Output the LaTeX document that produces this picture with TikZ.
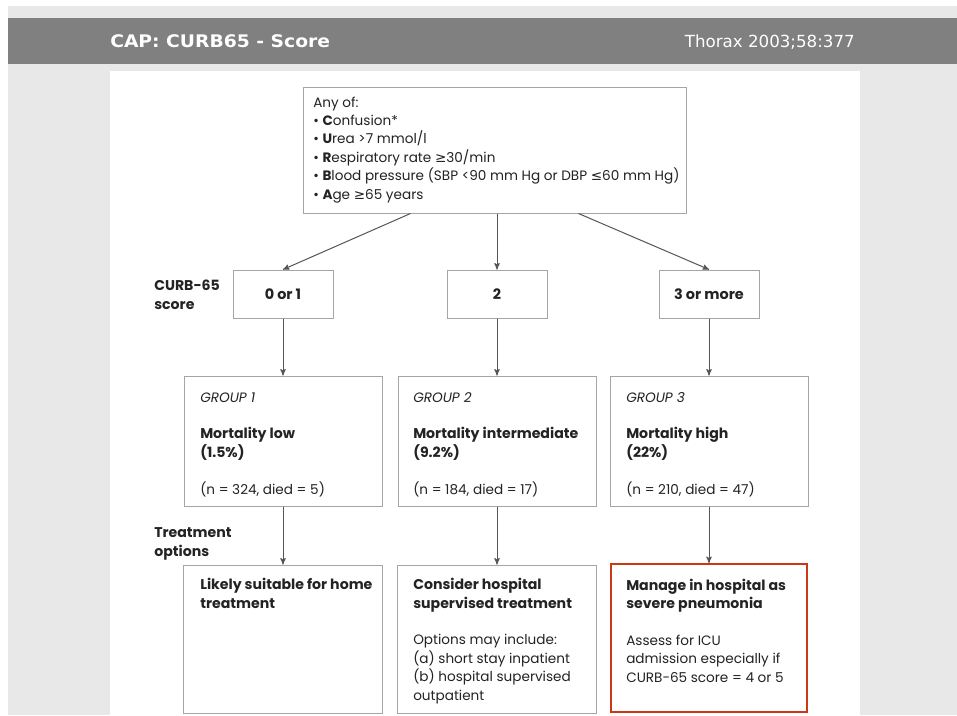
\documentclass[tikz,border=0pt]{standalone}
\usepackage{fontspec}
\setmainfont{Poppins}
\newfontfamily\headfont{DejaVu Sans}
\newfontfamily\symfont{DejaVu Sans}
\usetikzlibrary{arrows}

\definecolor{panelgray}{RGB}{232,232,232}
\definecolor{bargray}{RGB}{128,128,128}
\definecolor{boxgray}{RGB}{165,165,165}
\definecolor{arrowgray}{RGB}{85,85,85}
\definecolor{textdark}{RGB}{35,35,35}
\definecolor{alertred}{RGB}{205,55,20}

\newcommand{\gesym}{{\symfont ≥}}
\newcommand{\lesym}{{\symfont ≤}}
\newcommand{\bt}[1]{{\fontsize{10.6}{13.8}\selectfont\bfseries #1}}

\begin{document}
\begin{tikzpicture}[x=0.75pt,y=-0.75pt,>=stealth',
  every node/.style={text=textdark,font=\fontsize{10.2}{13.8}\selectfont},
  headtxt/.style={text=white,inner sep=0pt,font=\headfont\fontsize{12.5}{15}\selectfont},
  box/.style={draw=boxgray,line width=0.75pt,inner sep=0pt},
  scorebox/.style={box,minimum width=75pt,minimum height=36pt,font=\fontsize{10.8}{13.8}\selectfont\bfseries},
  groupbox/.style={box,minimum width=148.5pt,minimum height=97.5pt},
  treatbox/.style={box,minimum width=149.25pt,minimum height=111pt},
  redbox/.style={draw=alertred,line width=1.5pt,inner sep=0pt,minimum width=147pt,minimum height=111pt},
  txt/.style={anchor=base west,align=left,inner sep=0pt},
  link/.style={draw=arrowgray,line width=0.75pt}]
\useasboundingbox (0,0) rectangle (957,715);
\fill[white] (0,0) rectangle (957,715);
\fill[panelgray] (8,6) rectangle (957,715);
\fill[bargray] (8,18) rectangle (957,64);
\fill[white] (110,71) rectangle (860,715);

\node[headtxt,anchor=base west] (title) at (110,47) {\scalebox{1.08}[1]{\fontsize{13}{15}\selectfont\bfseries CAP: CURB65 - Score}};
\node[headtxt,anchor=base east] (source) at (855,47) {Thorax 2003;58:377};

\node[box,minimum width=287.25pt,minimum height=94.5pt] (crit) at (494.5,150) {};
\node[txt] (crittxt) at (313,199) {Any of:\\
• \textbf{C}onfusion*\\
• \textbf{U}rea >7 mmol/l\\
• \textbf{R}espiratory rate \gesym30/min\\
• \textbf{B}lood pressure (SBP <90 mm Hg or DBP \lesym60 mm Hg)\\
• \textbf{A}ge \gesym65 years};

\node[txt] (scorelbl) at (154,309) {\bt{CURB-65}\\\bt{score}};
\node[scorebox] (s0) at (283,294) {0 or 1};
\node[scorebox] (s2) at (497,294) {2};
\node[scorebox] (s3) at (709,294) {3 or more};

\node[groupbox] (g1) at (283,441) {};
\node[groupbox] (g2) at (497,441) {};
\node[groupbox] (g3) at (709,441) {};
\node[txt] (g1txt) at (200,494) {\textit{GROUP 1}\\[13.8pt]\bt{Mortality low}\\\bt{(1.5\%)}\\[13.8pt](n = 324, died = 5)};
\node[txt] (g2txt) at (413,494) {\textit{GROUP 2}\\[13.8pt]\bt{Mortality intermediate}\\\bt{(9.2\%)}\\[13.8pt](n = 184, died = 17)};
\node[txt] (g3txt) at (626,494) {\textit{GROUP 3}\\[13.8pt]\bt{Mortality high}\\\bt{(22\%)}\\[13.8pt](n = 210, died = 47)};

\node[txt] (treatlbl) at (154,556) {\bt{Treatment}\\\bt{options}};
\node[treatbox] (t1) at (283,639) {};
\node[treatbox] (t2) at (497,639) {};
\node[redbox] (t3) at (709,638) {};
\node[txt] (t1txt) at (200,608) {\bt{Likely suitable for home}\\\bt{treatment}};
\node[txt] (t2txt) at (413,700) {\bt{Consider hospital}\\\bt{supervised treatment}\\[13.8pt]Options may include:\\(a) short stay inpatient\\(b) hospital supervised\\outpatient};
\node[txt] (t3txt) at (626,682) {\bt{Manage in hospital as}\\\bt{severe pneumonia}\\[13.8pt]Assess for ICU\\admission especially if\\CURB-65 score = 4 or 5};

\draw[->,link] ([xshift=-63pt]crit.south) -- (s0.north);
\draw[->,link] (crit.south -| s2.north) -- (s2.north);
\draw[->,link] ([xshift=63pt]crit.south) -- (s3.north);
\draw[->,link] (s0.south) -- (g1.north);
\draw[->,link] (s2.south) -- (g2.north);
\draw[->,link] (s3.south) -- (g3.north);
\draw[->,link] (g1.south) -- (t1.north);
\draw[->,link] (g2.south) -- (t2.north);
\draw[->,link] (g3.south) -- (t3.north);
\end{tikzpicture}
\end{document}
